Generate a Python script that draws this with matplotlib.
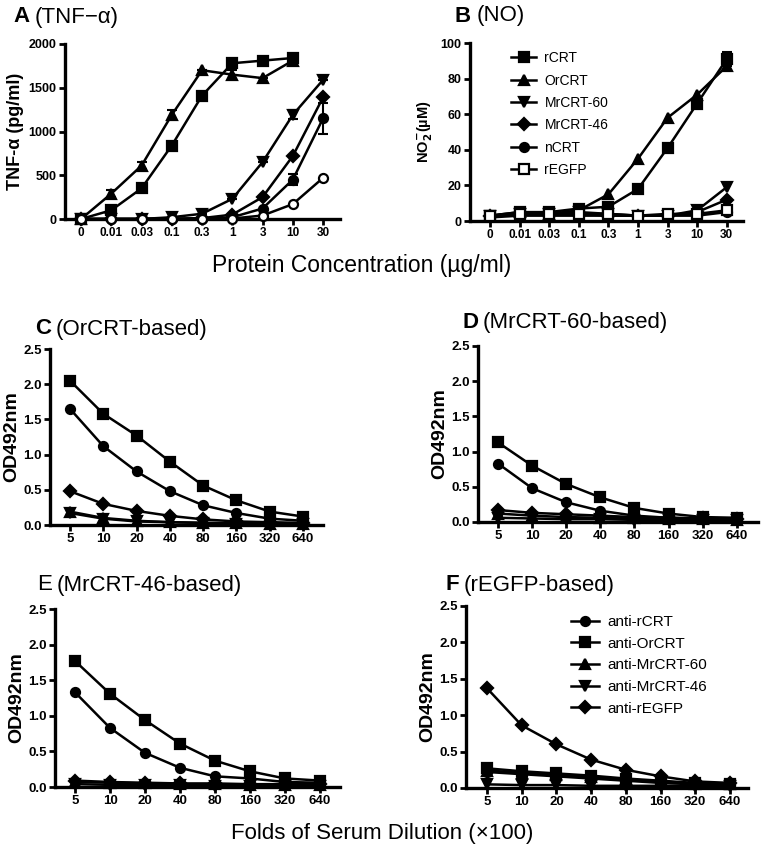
import numpy as np
import matplotlib
matplotlib.use("Agg")
from matplotlib import pyplot as plt

plt.rcParams['font.family'] = ['Liberation Sans', 'DejaVu Sans']

# protein concentrations (ug/ml) for panels A and B
conc = ['0', '0.01', '0.03', '0.1', '0.3', '1', '3', '10', '30']

# panel A, TNF-alpha (pg/ml)
tnf_rcrt = [0, 100, 350, 840, 1410, 1780, 1810, 1840]
tnf_orcrt = [0, 290, 610, 1190, 1700, 1650, 1610, 1810]
tnf_mr60 = [0, 0, 0, 20, 60, 230, 650, 1190, 1590]
tnf_mr46 = [0, 0, 0, 5, 10, 50, 250, 720, 1390]
tnf_ncrt = [0, 0, 0, 0, 0, 20, 120, 450, 1150]
tnf_regfp = [0, 0, 0, 0, 0, 5, 40, 170, 470]
tnf_err_rcrt = [0, 0, 0, 0, 0, 0, 0, 40]
tnf_err_orcrt = [0, 40, 40, 50, 0, 50, 0, 40]
tnf_err_mr60 = [0, 0, 0, 0, 0, 0, 0, 50, 0]
tnf_err_ncrt = [0, 0, 0, 0, 0, 0, 0, 60, 180]

# panel B, NO2- (uM)
no_rcrt = [3, 5, 5, 7, 8, 18, 41, 66, 91]
no_orcrt = [3, 5, 4, 6, 15, 35, 58, 71, 87]
no_mr60 = [3, 4, 4, 5, 4, 3, 3, 6, 19]
no_mr46 = [3, 4, 4, 4, 3, 3, 3, 5, 12]
no_ncrt = [2, 3, 3, 3, 3, 3, 3, 3, 5]
no_regfp = [3, 4, 4, 4, 4, 3, 4, 4, 6]
no_err_rcrt = [0, 0, 0, 0, 0, 0, 2, 2, 4]

# serum dilution folds (x100) for panels C-F
folds = ['5', '10', '20', '40', '80', '160', '320', '640']

# OD492nm, order: anti-rCRT, anti-OrCRT, anti-MrCRT-60, anti-MrCRT-46, anti-rEGFP
od_c = [[1.65, 1.12, 0.76, 0.48, 0.28, 0.17, 0.09, 0.06],
        [2.05, 1.58, 1.27, 0.90, 0.56, 0.35, 0.19, 0.12],
        [0.19, 0.10, 0.06, 0.04, 0.03, 0.03, 0.02, 0.02],
        [0.17, 0.09, 0.05, 0.04, 0.03, 0.02, 0.02, 0.02],
        [0.48, 0.30, 0.20, 0.13, 0.08, 0.05, 0.04, 0.03]]
od_d = [[0.83, 0.48, 0.28, 0.16, 0.09, 0.06, 0.05, 0.04],
        [1.13, 0.80, 0.54, 0.35, 0.20, 0.12, 0.07, 0.06],
        [0.12, 0.09, 0.07, 0.06, 0.05, 0.04, 0.04, 0.03],
        [0.06, 0.05, 0.04, 0.04, 0.03, 0.03, 0.03, 0.03],
        [0.17, 0.13, 0.11, 0.09, 0.07, 0.06, 0.05, 0.04]]
od_e = [[1.33, 0.83, 0.48, 0.27, 0.15, 0.12, 0.07, 0.06],
        [1.77, 1.31, 0.94, 0.61, 0.37, 0.22, 0.12, 0.09],
        [0.07, 0.06, 0.05, 0.04, 0.04, 0.03, 0.03, 0.03],
        [0.04, 0.03, 0.03, 0.03, 0.02, 0.02, 0.02, 0.02],
        [0.09, 0.07, 0.06, 0.05, 0.05, 0.04, 0.04, 0.04]]
od_f = [[0.22, 0.19, 0.16, 0.13, 0.10, 0.07, 0.05, 0.05],
        [0.27, 0.23, 0.20, 0.17, 0.13, 0.10, 0.07, 0.06],
        [0.24, 0.21, 0.18, 0.15, 0.12, 0.09, 0.06, 0.05],
        [0.05, 0.04, 0.04, 0.03, 0.03, 0.03, 0.03, 0.03],
        [1.37, 0.86, 0.60, 0.39, 0.25, 0.16, 0.09, 0.07]]
anti_names = ['anti-rCRT', 'anti-OrCRT', 'anti-MrCRT-60', 'anti-MrCRT-46', 'anti-rEGFP']
anti_markers = ['o', 's', '^', 'v', 'D']

W, H = 764, 859
fig = plt.figure(figsize=(W / 100, H / 100), dpi=100)
renderer = fig.canvas.get_renderer()


# make axes from pixel box (left, top, right, bottom)
def make_ax(l, t, r, b):
    ax = fig.add_axes([l / W, 1 - b / H, (r - l) / W, (b - t) / H])
    for s in ['top', 'right']:
        ax.spines[s].set_visible(False)
    for s in ['left', 'bottom']:
        ax.spines[s].set_linewidth(2.4)
    ax.tick_params(width=2, length=4, pad=2)
    return ax


def bold_ticks(ax, xsize, ysize):
    for lab in ax.get_xticklabels():
        lab.set_fontweight('bold')
        lab.set_fontsize(xsize)
    for lab in ax.get_yticklabels():
        lab.set_fontweight('bold')
        lab.set_fontsize(ysize)


def series(ax, y, m, err=None, face='k', label=None, ms=6.5):
    x = np.arange(len(y))
    ax.plot(x, y, color='k', lw=1.8, marker=m, ms=ms, mfc=face, mec='k',
            mew=1.6, label=label, clip_on=False, zorder=3)
    if err is not None:
        ax.errorbar(x, y, yerr=err, fmt='none', ecolor='k', elinewidth=1.5,
                    capsize=3.5, capthick=1.5, zorder=2, clip_on=False)


# panel title: bold letter then normal text
def title(x, y, letter, rest, bold_letter=True):
    t = fig.text(x / W, 1 - y / H, letter, fontsize=16,
                 fontweight='bold' if bold_letter else 'normal', va='center')
    w = t.get_window_extent(renderer).width
    fig.text((x + w + 5) / W, 1 - y / H, rest, fontsize=16, va='center')


# ---- panel A
axA = make_ax(65, 44, 340, 219)
series(axA, tnf_rcrt, 's', tnf_err_rcrt)
series(axA, tnf_orcrt, '^', tnf_err_orcrt)
series(axA, tnf_mr60, 'v', tnf_err_mr60)
series(axA, tnf_mr46, 'D', ms=6)
series(axA, tnf_ncrt, 'o', tnf_err_ncrt)
series(axA, tnf_regfp, 'o', face='white')
axA.set_xlim(-0.53, 8.56)
axA.set_ylim(0, 2000)
axA.set_xticks(range(len(conc)))
axA.set_xticklabels(conc)
axA.set_yticks([0, 500, 1000, 1500, 2000])
axA.set_ylabel('TNF-α (pg/ml)', fontsize=13, fontweight='bold', labelpad=3)
bold_ticks(axA, 8.5, 9)

# ---- panel B
axB = make_ax(470, 43, 743, 221)
series(axB, no_rcrt, 's', no_err_rcrt, label='rCRT')
series(axB, no_orcrt, '^', label='OrCRT')
series(axB, no_mr60, 'v', label='MrCRT-60')
series(axB, no_mr46, 'D', label='MrCRT-46', ms=6)
series(axB, no_ncrt, 'o', label='nCRT')
series(axB, no_regfp, 's', face='white', label='rEGFP')
axB.set_xlim(-0.68, 8.55)
axB.set_ylim(0, 100)
axB.set_xticks(range(len(conc)))
axB.set_xticklabels(conc)
axB.set_yticks([0, 20, 40, 60, 80, 100])
axB.set_ylabel(r'NO$_\mathbf{2}^{\mathbf{-}}$(µM)', fontsize=10.5, fontweight='bold', labelpad=4)
bold_ticks(axB, 8.5, 9)
axB.legend(loc='upper left', bbox_to_anchor=(0.12, 1.0), frameon=False, fontsize=10,
           handlelength=1.8, labelspacing=0.6, handletextpad=0.6, borderaxespad=0.2)

title(13, 17, 'A', '(TNF−α)')
title(455, 16, 'B', '(NO)')
fig.text(362 / W, 1 - 266 / H, 'Protein Concentration (µg/ml)', fontsize=16.5,
         ha='center', va='center')

# ---- panels C-F
boxes = [(50, 349, 323, 525, 70, 33.3), (478, 346, 758, 522, 498, 34.1),
         (55, 609, 340, 787, 75, 35.0), (466, 606, 748, 788, 487, 34.7)]
datas = [od_c, od_d, od_e, od_f]
for i, (box, dat) in enumerate(zip(boxes, datas)):
    l, t, r, b, x0, dx = box
    ax = make_ax(l, t, r, b)
    for y, m, name in zip(dat, anti_markers, anti_names):
        series(ax, y, m, label=name, ms=6 if m == 'D' else 6.5)
    ax.set_xlim((l - x0) / dx, (r - x0) / dx)
    ax.set_ylim(0, 2.5)
    ax.set_xticks(range(len(folds)))
    ax.set_xticklabels(folds)
    ax.set_yticks([0, 0.5, 1.0, 1.5, 2.0, 2.5])
    ax.set_yticklabels(['0.0', '0.5', '1.0', '1.5', '2.0', '2.5'])
    ax.set_ylabel('OD492nm', fontsize=14, fontweight='bold', labelpad=2)
    bold_ticks(ax, 9.5, 9.5)
    if i == 3:
        ax.legend(loc='upper left', bbox_to_anchor=(0.34, 1.0), frameon=False, fontsize=11,
                  handlelength=1.8, labelspacing=0.5, handletextpad=0.6, borderaxespad=0.2)

title(35, 329, 'C', '(OrCRT-based)')
title(462, 323, 'D', '(MrCRT-60-based)')
title(37, 585, 'E', '(MrCRT-46-based)', bold_letter=False)
title(445, 585, 'F', '(rEGFP-based)')
fig.text(382 / W, 1 - 833 / H, 'Folds of Serum Dilution (×100)', fontsize=16,
         ha='center', va='center')

fig.savefig('out.png', dpi=100)
